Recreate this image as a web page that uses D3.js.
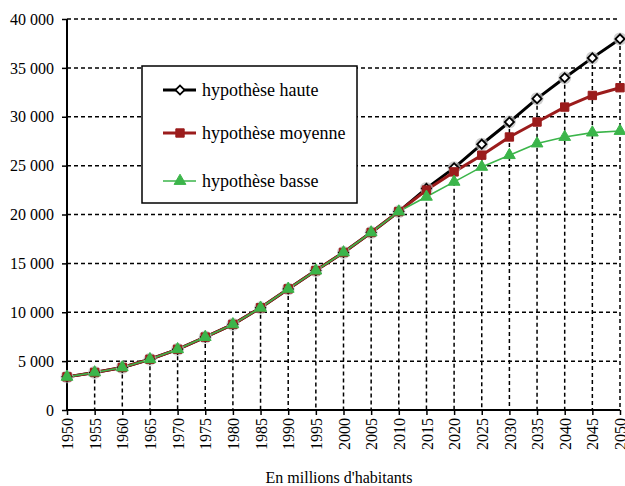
<!DOCTYPE html>
<html><head><meta charset="utf-8">
<script src="https://cdn.jsdelivr.net/npm/d3@7"></script>
<style>body{margin:0;background:#fff}svg{display:block}
svg text{font-family:"Liberation Serif","Times New Roman",Times,serif !important;fill:#000}</style>
</head><body>
<script>
const years = [1950,1955,1960,1965,1970,1975,1980,1985,1990,1995,2000,2005,2010,2015,2020,2025,2030,2035,2040,2045,2050];
const haute   = [3390,3840,4350,5190,6210,7460,8760,10460,12390,14260,16120,18160,20300,22670,24770,27190,29460,31850,33990,36020,37960];
const moyenne = [3390,3840,4350,5190,6210,7460,8760,10460,12390,14260,16120,18160,20300,22500,24360,26070,27930,29460,30990,32180,32970];
const basse   = [3390,3840,4350,5190,6210,7460,8760,10460,12390,14260,16120,18160,20300,21810,23340,24870,26070,27260,27930,28380,28540];
const yTicks = [0,5000,10000,15000,20000,25000,30000,35000,40000];
const seriesNames = ["hypothèse haute","hypothèse moyenne","hypothèse basse"];
const axisTitle = "En millions d'habitants";

const W=625,H=486;
const svg=d3.select("body").append("svg").attr("width",W).attr("height",H);
const x=d3.scaleLinear().domain([1950,2050]).range([67,620]);
const y=d3.scaleLinear().domain([0,40000]).range([410,19]);
const fmt=v=>d3.format(",")(v).replace(/,/g," ");

// horizontal grid
svg.append("g").selectAll("line").data(yTicks.filter(d=>d>0)).join("line")
  .attr("x1",x(1950)).attr("x2",x(2050)).attr("y1",d=>y(d)).attr("y2",d=>y(d))
  .attr("stroke","#000").attr("stroke-width",1.5).attr("stroke-dasharray","4,3");
// drop lines
svg.append("g").selectAll("line").data(years.map((yr,i)=>[yr,haute[i]]).filter(d=>d[0]>1950)).join("line")
  .attr("x1",d=>x(d[0])).attr("x2",d=>x(d[0])).attr("y1",d=>y(d[1])).attr("y2",y(0))
  .attr("stroke","#000").attr("stroke-width",1.5).attr("stroke-dasharray","4,3");

// axes
const yAxis=d3.axisLeft(y).tickValues(yTicks).tickFormat(fmt).tickSize(5).tickPadding(8);
const gy=svg.append("g").attr("transform",`translate(${x(1950)},0)`).call(yAxis);
gy.select(".domain").attr("stroke-width",2).attr("d",`M0,${y(0)}V${y(40000)}`);
gy.selectAll(".tick line").attr("stroke-width",1.5);
gy.selectAll("text").attr("font-size",16);

const xAxis=d3.axisBottom(x).tickValues(years).tickFormat(d3.format("d")).tickSize(5);
const gx=svg.append("g").attr("transform",`translate(0,${y(0)})`).call(xAxis);
gx.select(".domain").attr("stroke-width",2).attr("d",`M${x(1950)},0H${x(2050)}`);
gx.selectAll(".tick line").attr("stroke-width",1.5);
gx.selectAll("text").attr("font-size",16)
  .attr("transform","rotate(-90)").attr("text-anchor","end").attr("dy","0.35em").attr("x",-8).attr("y",0);

svg.append("text").attr("x",339).attr("y",483).attr("text-anchor","middle")
  .attr("font-size",16).text(axisTitle);

// series
const line=d3.line().x((d,i)=>x(years[i])).y(d=>y(d));
const defs=[
  {vals:haute,color:"#000",w:3,sym:d3.symbolSquare,size:42,rot:45,fill:"#fff",stroke:"#000",sw:1.8},
  {vals:moyenne,color:"#9b1c1c",w:3,sym:d3.symbolSquare,size:70,rot:0,fill:"#9b1c1c",stroke:"#9b1c1c",sw:1},
  {vals:basse,color:"#3bb54a",w:1.6,sym:d3.symbolTriangle,size:60,rot:0,fill:"#3bb54a",stroke:"#3bb54a",sw:1}
];
defs.forEach(s=>{
  svg.append("path").datum(s.vals).attr("d",line).attr("fill","none")
    .attr("stroke",s.color).attr("stroke-width",s.w).attr("stroke-linejoin","round");
});
defs.forEach((s,k)=>{
  const g=svg.append("g");
  if(k===0){
    g.selectAll("circle").data(s.vals).join("circle")
      .attr("cx",(d,i)=>x(years[i])).attr("cy",d=>y(d)).attr("r",6.5)
      .attr("fill","#bbb").attr("opacity",0.7);
  }
  g.selectAll("path.m").data(s.vals).join("path").attr("class","m")
    .attr("d",d3.symbol(s.sym,s.size)).attr("transform",(d,i)=>`translate(${x(years[i])},${y(d)}) rotate(${s.rot})`)
    .attr("fill",s.fill).attr("stroke",s.stroke).attr("stroke-width",s.sw);
});

// legend
const lg=svg.append("g");
lg.append("rect").attr("x",142).attr("y",66).attr("width",215).attr("height",137)
  .attr("fill","#fff").attr("stroke","#000").attr("stroke-width",1.5);
const ly=[90,133,181];
defs.forEach((s,i)=>{
  lg.append("line").attr("x1",163).attr("x2",196).attr("y1",ly[i]).attr("y2",ly[i])
    .attr("stroke",s.color).attr("stroke-width",s.w);
  lg.append("path").attr("d",d3.symbol(s.sym,s.size)).attr("transform",`translate(180,${ly[i]}) rotate(${s.rot})`)
    .attr("fill",s.fill).attr("stroke",s.stroke).attr("stroke-width",s.sw);
  lg.append("text").attr("x",202).attr("y",ly[i]).attr("dy","0.33em")
    .attr("font-size",18).text(seriesNames[i]);
});
</script>
</body></html>
